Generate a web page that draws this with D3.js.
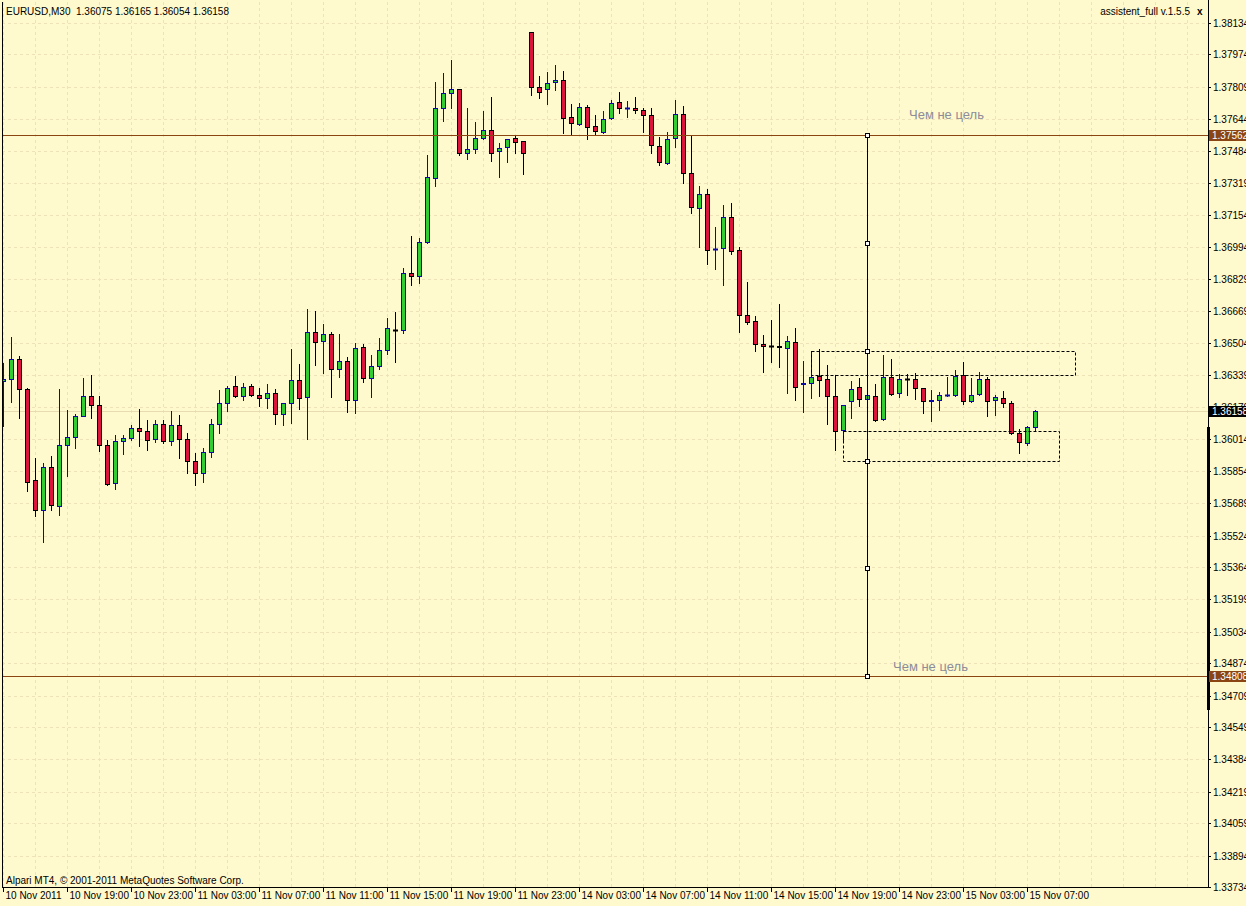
<!DOCTYPE html>
<html><head><meta charset="utf-8">
<script src="https://cdn.jsdelivr.net/npm/d3@7"></script>
<style>html,body{margin:0;padding:0;background:#FFFACD;}svg{display:block}</style>
</head><body>
<svg id="chart" width="1246" height="906"></svg>
<script>
// ---------- DATA ----------
const symbolLabel = "EURUSD,M30";
const headerValues = [1.36075, 1.36165, 1.36054, 1.36158];
const indicatorLabel = "assistent_full v.1.5.5";
const copyrightLabel = "Alpari MT4, \u00A9 2001-2011 MetaQuotes Software Corp.";

const openP = [1.36311,1.36319,1.36421,1.36269,1.35805,1.35652,1.35871,1.35673,1.35983,1.36024,
1.36131,1.36233,1.36187,1.35983,1.35790,1.36004,1.36019,1.36070,1.36055,1.36014,
1.36090,1.36004,1.36085,1.36014,1.35902,1.35841,1.35948,1.36090,1.36197,1.36284,
1.36233,1.36284,1.36238,1.36223,1.36248,1.36141,1.36197,1.36314,1.36228,1.36559,
1.36513,1.36549,1.36370,1.36411,1.36213,1.36482,1.36325,1.36386,1.36467,1.36572,
1.36569,1.36861,1.36846,1.37017,1.37343,1.37700,1.37776,1.37796,1.37470,1.37491,
1.37547,1.37588,1.37481,1.37501,1.37547,1.37532,1.38087,1.37807,1.37796,1.37832,
1.37842,1.37654,1.37618,1.37705,1.37608,1.37577,1.37649,1.37730,1.37699,1.37700,
1.37689,1.37664,1.37506,1.37419,1.37547,1.37669,1.37369,1.37190,1.37262,1.36982,
1.36987,1.37145,1.36976,1.36645,1.36615,1.36498,1.36488,1.36488,1.36477,1.36508,
1.36298,1.36299,1.36335,1.36319,1.36233,1.36060,1.36207,1.36279,1.36218,1.36233,
1.36116,1.36330,1.36248,1.36319,1.36319,1.36274,1.36209,1.36213,1.36240,1.36238,
1.36340,1.36207,1.36243,1.36319,1.36213,1.36223,1.36197,1.36045,1.35994,1.36075];

const highP = [1.36403,1.36533,1.36438,1.36274,1.35919,1.35892,1.35929,1.36269,1.36163,1.36141,
1.36326,1.36341,1.36233,1.36010,1.36036,1.36036,1.36085,1.36168,1.36112,1.36112,
1.36112,1.36158,1.36138,1.36046,1.35943,1.35970,1.36117,1.36265,1.36284,1.36336,
1.36299,1.36294,1.36274,1.36294,1.36269,1.36197,1.36472,1.36397,1.36676,1.36666,
1.36600,1.36559,1.36549,1.36432,1.36503,1.36498,1.36442,1.36528,1.36630,1.36661,
1.36886,1.37049,1.37039,1.37462,1.37834,1.37879,1.37946,1.37800,1.37700,1.37628,
1.37684,1.37757,1.37521,1.37542,1.37557,1.37532,1.38090,1.37863,1.37883,1.37919,
1.37888,1.37720,1.37725,1.37715,1.37666,1.37684,1.37740,1.37781,1.37735,1.37756,
1.37700,1.37700,1.37552,1.37577,1.37740,1.37710,1.37557,1.37302,1.37287,1.37094,
1.37206,1.37216,1.36992,1.36814,1.36640,1.36544,1.36620,1.36702,1.36540,1.36579,
1.36411,1.36462,1.36472,1.36391,1.36340,1.36190,1.36309,1.36325,1.36314,1.36294,
1.36442,1.36421,1.36345,1.36345,1.36350,1.36276,1.36263,1.36253,1.36330,1.36365,
1.36406,1.36325,1.36355,1.36330,1.36238,1.36258,1.36207,1.36065,1.36080,1.36165];

const lowP = [1.36082,1.36205,1.36124,1.35752,1.35625,1.35492,1.35655,1.35630,1.35829,1.35971,
1.36131,1.36124,1.35956,1.35780,1.35762,1.35941,1.36009,1.35981,1.35961,1.35999,
1.35994,1.35987,1.35920,1.35844,1.35780,1.35798,1.35925,1.36048,1.36160,1.36230,
1.36216,1.36233,1.36185,1.36175,1.36093,1.36088,1.36098,1.36170,1.36017,1.36394,
1.36353,1.36231,1.36333,1.36154,1.36149,1.36304,1.36231,1.36370,1.36447,1.36406,
1.36555,1.36800,1.36810,1.37012,1.37305,1.37637,1.37700,1.37463,1.37443,1.37473,
1.37545,1.37433,1.37351,1.37428,1.37473,1.37367,1.37769,1.37751,1.37720,1.37791,
1.37575,1.37562,1.37613,1.37542,1.37567,1.37572,1.37647,1.37674,1.37657,1.37674,
1.37577,1.37470,1.37409,1.37417,1.37501,1.37318,1.37165,1.36992,1.36905,1.36880,
1.36798,1.36956,1.36559,1.36600,1.36462,1.36355,1.36406,1.36381,1.36248,1.36213,
1.36151,1.36223,1.36233,1.36090,1.35958,1.36010,1.36121,1.36182,1.36207,1.36106,
1.36111,1.36238,1.36228,1.36238,1.36218,1.36146,1.36106,1.36162,1.36236,1.36236,
1.36192,1.36202,1.36241,1.36131,1.36136,1.36177,1.36039,1.35943,1.35983,1.36054];

const closeP = [1.36321,1.36421,1.36269,1.35795,1.35652,1.35871,1.35678,1.35983,1.36024,1.36131,
1.36233,1.36187,1.35983,1.35785,1.36004,1.36019,1.36070,1.36055,1.36009,1.36090,
1.36004,1.36085,1.36014,1.35902,1.35841,1.35948,1.36090,1.36197,1.36274,1.36233,
1.36279,1.36238,1.36223,1.36248,1.36141,1.36197,1.36314,1.36223,1.36559,1.36508,
1.36549,1.36370,1.36411,1.36213,1.36477,1.36325,1.36386,1.36467,1.36579,1.36572,
1.36861,1.36846,1.37017,1.37348,1.37700,1.37776,1.37796,1.37470,1.37491,1.37547,
1.37588,1.37470,1.37496,1.37542,1.37526,1.37470,1.37807,1.37781,1.37827,1.37842,
1.37649,1.37623,1.37705,1.37603,1.37583,1.37644,1.37725,1.37700,1.37701,1.37689,
1.37664,1.37511,1.37425,1.37542,1.37669,1.37369,1.37195,1.37262,1.36976,1.36984,
1.37145,1.36971,1.36645,1.36610,1.36498,1.36488,1.36488,1.36482,1.36513,1.36279,
1.36300,1.36330,1.36314,1.36233,1.36055,1.36187,1.36269,1.36218,1.36238,1.36111,
1.36330,1.36243,1.36319,1.36319,1.36274,1.36207,1.36212,1.36238,1.36242,1.36335,
1.36207,1.36238,1.36319,1.36207,1.36228,1.36197,1.36045,1.35999,1.36075,1.36158];

const priceTicks = [1.38134,1.37974,1.37809,1.37644,1.37484,1.37319,1.37154,1.36994,1.36829,1.36669,
1.36504,1.36339,1.36179,1.36014,1.35854,1.35689,1.35524,1.35364,1.35199,1.35034,
1.34874,1.34709,1.34549,1.34384,1.34219,1.34059,1.33894,1.33734];

const timeTickIndex = [0,8,16,24,32,40,48,56,64,72,80,88,96,104,112,120,128];
const timeTickLabels = ["10 Nov 2011","10 Nov 19:00","10 Nov 23:00","11 Nov 03:00","11 Nov 07:00",
"11 Nov 11:00","11 Nov 15:00","11 Nov 19:00","11 Nov 23:00","14 Nov 03:00","14 Nov 07:00",
"14 Nov 11:00","14 Nov 15:00","14 Nov 19:00","14 Nov 23:00","15 Nov 03:00","15 Nov 07:00"];

const levelPrices = [1.37562, 1.34808];
const levelTexts = ["Чем не цель", "Чем не цель"];
const levelTextIndex = [113.25, 111.25];
const levelTextPrice = [1.37645, 1.34834];
const projectionIndex = 108;
const projectionLevels = [1.37562, 1.37014, 1.36464, 1.35903, 1.35359, 1.34808];
const boxStartIndex = [101, 105];
const boxEndIndex = [134, 132];
const boxTop = [1.36464, 1.36056];
const boxBottom = [1.36340, 1.35903];
const sideBarRange = [1.36077, 1.34635];

// ---------- CHART ----------
(function () {
const BG = "#FFFACD", GRID = "#EEE3B8";
const UP_FILL = "#32CD32", UP_LINE = "#0A0AA0", DN_FILL = "#DC143C", DN_LINE = "#000000";
const LEVEL = "#8B4513";
const FONT = "'Liberation Sans',Arial,sans-serif";
const FS = 10;
const pLeft = 2, pRight = 1208, pBottom = 887;

const svg = d3.select("#chart");
svg.append("rect").attr("width",1246).attr("height",906).attr("fill",BG);

const x = d3.scaleLinear().domain([0, 129]).range([3, 1035]);
const y = d3.scaleLinear().domain([1.33734, 1.38134]).range([887, 23]);
const yr = v => Math.round(y(v));
const xr = v => Math.round(x(v));

// grid
const grid = svg.append("g");
const vIdx = d3.range(0, 151, 4);
grid.selectAll("line.v").data(vIdx).join("line")
  .attr("x1", d => xr(d) + 0.5).attr("x2", d => xr(d) + 0.5)
  .attr("y1", 2).attr("y2", pBottom)
  .attr("stroke", GRID).attr("stroke-dasharray", "3,3");
grid.selectAll("line.h").data(priceTicks).join("line")
  .attr("x1", pLeft).attr("x2", pRight)
  .attr("y1", d => yr(d) + 0.5).attr("y2", d => yr(d) + 0.5)
  .attr("stroke", GRID).attr("stroke-dasharray", "3,3");

// bid line
const lastClose = closeP[closeP.length - 1];
svg.append("line").attr("x1", pLeft).attr("x2", pRight)
  .attr("y1", yr(lastClose) + 0.5).attr("y2", yr(lastClose) + 0.5)
  .attr("stroke", "#E6DCB0");

// candles
svg.append("clipPath").attr("id","plot").append("rect")
  .attr("x", pLeft + 1).attr("y", 0).attr("width", pRight - pLeft - 1).attr("height", pBottom);
const bars = d3.range(openP.length).map(i => ({i, o: openP[i], h: highP[i], l: lowP[i], c: closeP[i], up: closeP[i] > openP[i]}));
const cg = svg.append("g").attr("clip-path","url(#plot)");
const cand = cg.selectAll("g").data(bars).join("g");
cand.append("line")
  .attr("x1", d => xr(d.i) + 0.5).attr("x2", d => xr(d.i) + 0.5)
  .attr("y1", d => yr(d.h)).attr("y2", d => yr(d.l) + 1)
  .attr("stroke", d => d.up ? UP_LINE : DN_LINE);
cand.each(function(d) {
  const g = d3.select(this);
  const t = yr(Math.max(d.o, d.c)), b = yr(Math.min(d.o, d.c));
  const cx = xr(d.i);
  if (b - t < 1) {
    g.append("line").attr("x1", cx - 2).attr("x2", cx + 3)
      .attr("y1", t + 0.5).attr("y2", t + 0.5).attr("stroke", d.up ? UP_LINE : DN_LINE).attr("stroke-width", 2);
  } else {
    g.append("rect").attr("x", cx - 1.5).attr("y", t + 0.5).attr("width", 4).attr("height", b - t)
      .attr("fill", d.up ? UP_FILL : DN_FILL).attr("stroke", d.up ? UP_LINE : DN_LINE);
  }
});

// level lines
svg.selectAll("line.level").data(levelPrices).join("line")
  .attr("x1", pLeft).attr("x2", pRight)
  .attr("y1", d => yr(d) + 0.5).attr("y2", d => yr(d) + 0.5)
  .attr("stroke", LEVEL);
svg.selectAll("text.lvl").data(levelTexts).join("text")
  .attr("x", (d, i) => x(levelTextIndex[i]))
  .attr("y", (d, i) => yr(levelTextPrice[i]))
  .attr("font-family", FONT).attr("font-size", 13)
  .attr("fill", "#8C8C9A")
  .text(d => d);

// boxes
const boxes = boxStartIndex.map((s, k) => ({s, e: boxEndIndex[k], t: boxTop[k], b: boxBottom[k]}));
svg.selectAll("rect.box").data(boxes).join("rect")
  .attr("x", d => xr(d.s) + 0.5).attr("y", d => yr(d.t) + 0.5)
  .attr("width", d => xr(d.e) - xr(d.s)).attr("height", d => yr(d.b) - yr(d.t))
  .attr("fill", "none").attr("stroke", "#000").attr("stroke-dasharray", "3,2");

// projection line
const px = xr(projectionIndex);
svg.append("line").attr("x1", px + 0.5).attr("x2", px + 0.5)
  .attr("y1", yr(d3.max(projectionLevels))).attr("y2", yr(d3.min(projectionLevels)))
  .attr("stroke", "#000");
svg.selectAll("rect.pt").data(projectionLevels).join("rect")
  .attr("x", px - 1.5).attr("y", d => yr(d) - 1.5).attr("width", 4).attr("height", 4)
  .attr("fill", "#fff").attr("stroke", "#000");

// frame
svg.append("line").attr("x1", pLeft + 0.5).attr("x2", pLeft + 0.5).attr("y1", 2).attr("y2", pBottom).attr("stroke", "#000");
svg.append("line").attr("x1", pLeft).attr("x2", pRight + 1).attr("y1", pBottom + 0.5).attr("y2", pBottom + 0.5).attr("stroke", "#000");

// price axis
const yRound = y.copy().interpolate(d3.interpolateRound);
const ya = svg.append("g").attr("transform", `translate(${pRight},0)`)
  .call(d3.axisRight(yRound).tickValues(priceTicks).tickFormat(d3.format(".5f")).tickSize(3).tickPadding(2).tickSizeOuter(0));
ya.select(".domain").remove();
ya.selectAll("text").attr("font-family", FONT).attr("font-size", FS).attr("fill", "#000");
ya.selectAll("line").attr("stroke", "#000");
svg.append("line").attr("x1", pRight + 0.5).attr("x2", pRight + 0.5).attr("y1", 0).attr("y2", pBottom + 1).attr("stroke", "#000");
svg.append("rect").attr("x", pRight - 1).attr("y", yr(sideBarRange[0])).attr("width", 3)
  .attr("height", yr(sideBarRange[1]) - yr(sideBarRange[0])).attr("fill", "#000");

// price tags
const tags = levelPrices.map(p => ({p, bg: LEVEL})).concat([{p: lastClose, bg: "#000"}]);
const tg = svg.selectAll("g.tag").data(tags).join("g");
tg.append("rect").attr("x", pRight + 1).attr("y", d => yr(d.p) - 5).attr("width", 40).attr("height", 11).attr("fill", d => d.bg);
tg.append("text").attr("x", pRight + 4).attr("y", d => yr(d.p) + 4)
  .attr("font-family", FONT).attr("font-size", FS).attr("fill", "#fff")
  .text(d => d3.format(".5f")(d.p));

// time axis
const xRound = x.copy().interpolate(d3.interpolateRound);
const xa = svg.append("g").attr("transform", `translate(0,${pBottom})`)
  .call(d3.axisBottom(xRound).tickValues(timeTickIndex).tickFormat((d, i) => timeTickLabels[i]).tickSize(5).tickSizeOuter(0));
xa.select(".domain").remove();
xa.selectAll("line").attr("stroke", "#000");
xa.selectAll("text").attr("text-anchor", "start").attr("x", 2).attr("y", 5).attr("dy", "0.71em")
  .attr("font-family", FONT).attr("font-size", FS).attr("fill", "#000");

// texts
svg.append("text").attr("x", 6).attr("y", 15).attr("font-family", FONT).attr("font-size", FS)
  .attr("fill", "#000").style("white-space","pre")
  .text(symbolLabel + "  " + headerValues.map(d3.format(".5f")).join(" "));
svg.append("text").attr("x", 1190).attr("y", 15).attr("text-anchor", "end").attr("font-family", FONT).attr("font-size", FS)
  .attr("fill", "#000").text(indicatorLabel);
svg.append("text").attr("x", 1197).attr("y", 15).attr("font-family", FONT).attr("font-size", FS).attr("font-weight", "bold")
  .attr("fill", "#000").text("x");
svg.append("text").attr("x", 6).attr("y", 884).attr("font-family", FONT).attr("font-size", FS)
  .attr("fill", "#000").text(copyrightLabel);
})();
</script>
</body></html>
